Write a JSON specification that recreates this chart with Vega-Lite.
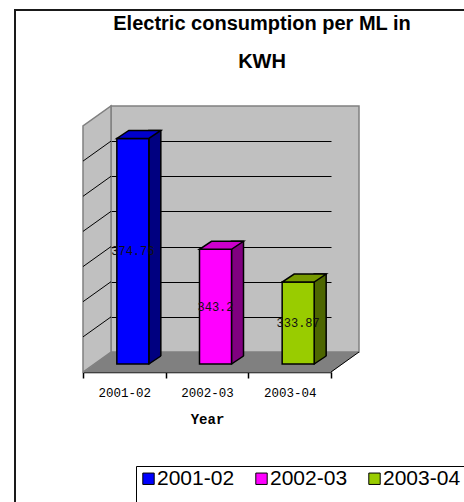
{
  "$schema": "https://vega.github.io/schema/vega-lite/v6.json",
  "autosize": "none",
  "padding": {"left": 111, "top": 106, "right": 105, "bottom": 150},
  "width": 248,
  "height": 246,
  "background": "white",
  "config": {
    "view": {"fill": "#c0c0c0", "stroke": "#808080", "strokeWidth": 1.5},
    "font": "Liberation Sans"
  },
  "title": {
    "text": ["Electric consumption per ML in", "KWH"],
    "font": "Liberation Sans",
    "fontSize": 20,
    "fontWeight": "bold",
    "color": "black",
    "lineHeight": 38,
    "anchor": "middle",
    "frame": "group",
    "dx": 27,
    "dy": 70
  },
  "data": {
    "values": [
      {"Year": "2001-02", "kwh": 374.76},
      {"Year": "2002-03", "kwh": 343.2},
      {"Year": "2003-04", "kwh": 333.87}
    ]
  },
  "resolve": {"scale": {"y": "independent", "fill": "independent"}},
  "layer": [
    {
      "transform": [{"filter": "datum.Year == '2002-03'"}],
      "mark": {"type": "point", "filled": true, "opacity": 1, "size": 4, "fill": "#c0c0c0", "stroke": "#808080", "strokeWidth": 1.5,
        "shape": "M-96,-246 L-96,0 L-124,20 L-124,-226 Z"},
      "encoding": {
        "x": {"field": "Year", "type": "nominal",
          "scale": {"type": "band", "domain": ["2001-02", "2002-03", "2003-04"], "range": [-28, 220], "paddingInner": 0, "paddingOuter": 0},
          "axis": {"orient": "bottom", "offset": 20, "title": "Year", "titleFont": "Liberation Mono", "titleFontWeight": "bold", "titleFontSize": 14, "titleColor": "black", "titlePadding": 14,
            "labelFont": "Liberation Mono", "labelFontSize": 12.5, "labelColor": "black", "labelPadding": 8, "labelAngle": 0,
            "tickColor": "black", "tickSize": 6, "tickWidth": 1.5, "tickBand": "extent", "domainColor": "black", "domainWidth": 1.5, "grid": false}},
        "y": {"datum": 310, "type": "quantitative", "scale": {"domain": [310, 380], "zero": false}, "axis": null}
      }
    },
    {
      "transform": [{"filter": "datum.Year == '2002-03'"}],
      "mark": {"type": "point", "filled": true, "opacity": 1, "size": 4, "fill": "#808080", "strokeWidth": 0,
        "shape": "M-96,0 L152,0 L124,20.5 L-124,20.5 Z"},
      "encoding": {
        "x": {"field": "Year", "type": "nominal"},
        "y": {"datum": 310, "type": "quantitative", "scale": {"domain": [310, 380], "zero": false}, "axis": null}
      }
    },
    {
      "transform": [{"filter": "datum.Year == '2002-03'"}],
      "mark": {"type": "point", "filled": false, "opacity": 1, "size": 4, "stroke": "black", "strokeWidth": 1,
        "shape": "M-96,-35.1 L-124,-15.1 M-96,-70.3 L-124,-50.3 M-96,-105.4 L-124,-85.4 M-96,-140.6 L-124,-120.6 M-96,-175.7 L-124,-155.7 M-96,-210.9 L-124,-190.9 M152,0 L124,20"},
      "encoding": {
        "x": {"field": "Year", "type": "nominal"},
        "y": {"datum": 310, "type": "quantitative", "scale": {"domain": [310, 380], "zero": false}, "axis": null}
      }
    },
    {
      "transform": [{"filter": "datum.Year == '2002-03'"}],
      "mark": {"type": "point", "filled": false, "opacity": 1, "size": 4, "stroke": "#1a1a1a", "strokeWidth": 2,
        "shape": "M-192,170 L-192,-342 L270,-342"},
      "encoding": {
        "x": {"field": "Year", "type": "nominal"},
        "y": {"datum": 310, "type": "quantitative", "scale": {"domain": [310, 380], "zero": false}, "axis": null}
      }
    },
    {
      "mark": {"type": "bar", "width": 12, "xOffset": 30.5, "yOffset": 6, "y2Offset": 12, "stroke": "black", "strokeWidth": 1.5, "opacity": 1},
      "encoding": {
        "x": {"field": "Year", "type": "nominal"},
        "y": {"field": "kwh", "type": "quantitative", "scale": {"domain": [310, 380], "zero": false}, "axis": null},
        "y2": {"datum": 310},
        "fill": {"field": "Year", "type": "nominal", "scale": {"domain": ["2001-02", "2002-03", "2003-04"], "range": ["#000080", "#800080", "#4D6600"]}, "legend": null}
      }
    },
    {
      "mark": {"type": "point", "filled": true, "opacity": 1, "size": 4, "fill": "#808080", "strokeWidth": 0, "xOffset": 8.5, "yOffset": 12,
        "shape": "M16,0.6 L28.6,-8 L30,-8 L30,2 L16,2 Z"},
      "encoding": {
        "x": {"field": "Year", "type": "nominal"},
        "y": {"datum": 310, "type": "quantitative", "scale": {"domain": [310, 380], "zero": false}, "axis": null}
      }
    },
    {
      "mark": {"type": "point", "filled": false, "opacity": 1, "size": 4, "stroke": "black", "strokeWidth": 1.5, "xOffset": 8.5, "yOffset": 12,
        "shape": "M16,0 L28,-8"},
      "encoding": {
        "x": {"field": "Year", "type": "nominal"},
        "y": {"datum": 310, "type": "quantitative", "scale": {"domain": [310, 380], "zero": false}, "axis": null}
      }
    },
    {
      "mark": {"type": "bar", "width": 32, "xOffset": 8.5, "yOffset": 14, "y2Offset": 12, "stroke": "black", "strokeWidth": 1.5, "opacity": 1},
      "encoding": {
        "x": {"field": "Year", "type": "nominal"},
        "y": {"field": "kwh", "type": "quantitative", "scale": {"domain": [310, 380], "zero": false},
          "axis": {"values": [320, 330, 340, 350, 360, 370], "grid": true, "gridColor": "black", "gridWidth": 1, "gridOpacity": 1, "labels": false, "ticks": false, "domain": false, "title": null}},
        "y2": {"datum": 310},
        "color": {"field": "Year", "type": "nominal",
          "scale": {"domain": ["2001-02", "2002-03", "2003-04"], "range": ["#0000FF", "#FF00FF", "#99CC00"]},
          "legend": {"orient": "none", "legendX": 25, "legendY": 360, "direction": "horizontal",
            "title": " ", "titleOrient": "right", "titleFontSize": 44, "titlePadding": 10,
            "symbolType": "square", "symbolSize": 130, "symbolStrokeColor": "black", "symbolStrokeWidth": 1, "symbolOpacity": 1,
            "labelFont": "Liberation Sans", "labelFontSize": 21, "labelColor": "black", "labelOffset": -2,
            "columnPadding": 16, "strokeColor": "black", "padding": 2, "fillColor": "white"}}
      }
    },
    {
      "mark": {"type": "point", "filled": true, "opacity": 1, "size": 4, "stroke": "black", "strokeWidth": 1.5, "xOffset": 8.5, "yOffset": 14,
        "shape": "M-16,0 L16,0 L28,-8 L-4,-8 Z"},
      "encoding": {
        "x": {"field": "Year", "type": "nominal"},
        "y": {"field": "kwh", "type": "quantitative", "scale": {"domain": [310, 380], "zero": false}, "axis": null},
        "fill": {"field": "Year", "type": "nominal", "scale": {"domain": ["2001-02", "2002-03", "2003-04"], "range": ["#0000CC", "#CC00CC", "#779900"]}, "legend": null}
      }
    },
    {
      "mark": {"type": "text", "font": "Liberation Mono", "fontSize": 12, "color": "#111111", "baseline": "middle", "align": "center", "xOffset": 8.5},
      "encoding": {
        "x": {"field": "Year", "type": "nominal"},
        "y": {"field": "kwh", "type": "quantitative", "scale": {"domain": [310, 380], "range": [259, 136], "zero": false}, "axis": null},
        "text": {"field": "kwh", "type": "quantitative", "format": ".2~f"}
      }
    }
  ]
}
